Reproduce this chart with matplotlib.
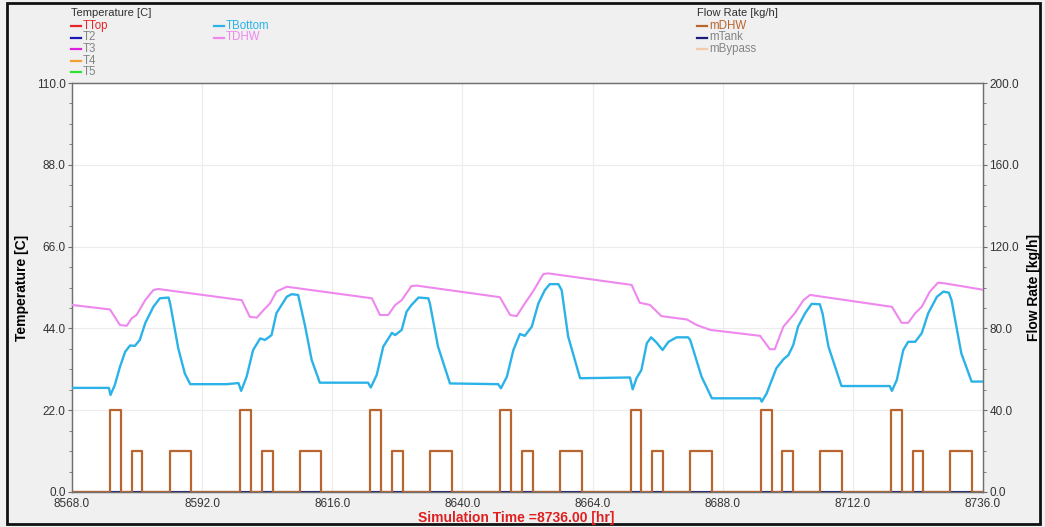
import matplotlib
matplotlib.use("Agg")
import matplotlib.pyplot as plt
from matplotlib.lines import Line2D
from matplotlib.patches import Rectangle
from matplotlib.ticker import AutoMinorLocator, FixedLocator, FormatStrFormatter

plt.rcParams["font.family"] = ["Liberation Sans", "DejaVu Sans"]

# ---- data -------------------------------------------------------------
t_start = 8568.0
t_end = 8736.0

# storage bottom temperature [C]; hours relative to t_start
tbottom_h = [0, 6.8, 7.1, 7.9, 8.85, 9.8, 10.7, 11.6, 12.5, 13.5, 15.0, 16.2, 17.8, 18.1,
             19.6, 20.8, 21.8, 28.5, 30.7, 31.2, 32.2, 33.4, 34.7, 35.6, 36.8, 37.7, 39.6,
             40.5, 41.7, 43.0, 44.2, 45.7, 54.6, 55.1, 56.2, 57.4, 59.0, 59.6, 60.8, 61.7,
             62.6, 63.9, 65.7, 66.0, 67.5, 69.7, 78.6, 79.1, 80.2, 81.4, 82.6, 83.5, 84.8,
             86.0, 87.2, 88.1, 89.7, 90.3, 91.5, 93.7, 102.9, 103.4, 104.1, 105.0, 106.0,
             106.8, 107.8, 108.9, 110.0, 111.5, 113.6, 114.0, 116.1, 118.0, 126.9, 127.2,
             128.1, 128.7, 129.9, 131.2, 132.1, 133.0, 133.9, 135.2, 136.4, 137.9, 138.4,
             139.5, 141.9, 150.8, 151.2, 152.1, 153.3, 154.2, 155.5, 156.7, 157.9, 159.5,
             160.7, 161.7, 162.2, 164.0, 165.9, 168.0]
tbottom = [28.0, 28.0, 26.1, 28.8, 33.7, 37.7, 39.4, 39.3, 40.9, 45.4, 49.8, 52.1, 52.3, 50.7,
           38.6, 31.9, 29.0, 29.0, 29.3, 27.2, 31.0, 38.2, 41.3, 40.9, 42.2, 48.1, 52.5,
           53.2, 53.0, 44.5, 35.5, 29.4, 29.4, 28.1, 31.5, 39.1, 42.8, 42.2, 43.6, 48.5,
           50.3, 52.3, 52.1, 50.7, 39.1, 29.2, 29.0, 27.9, 31.0, 38.2, 42.5, 42.0, 44.5,
           50.7, 54.3, 55.9, 55.9, 54.3, 41.8, 30.6, 30.8, 27.6, 30.6, 32.8, 40.0,
           41.6, 40.2, 38.2, 40.4, 41.6, 41.6, 40.9, 31.0, 25.2, 25.2, 24.3,
           26.5, 28.8, 33.3, 35.7, 36.8, 39.5, 44.5, 48.1, 50.6, 50.5, 48.1,
           39.1, 28.5, 28.5, 27.2, 30.1, 38.2, 40.4, 40.4, 42.7, 48.1, 52.5,
           53.9, 53.6, 51.6, 37.3, 29.7, 29.7]

# domestic hot water outlet temperature [C]
tdhw_h = [0, 7.0, 8.85, 10.1, 11.0, 11.9, 13.5, 15.0, 15.9, 31.3, 32.8, 34.1, 35.3, 36.5,
          37.7, 39.6, 55.3, 56.8, 58.3, 59.6, 60.8, 62.6, 63.6, 78.9, 80.8, 82.0, 83.5,
          85.0, 86.9, 87.8, 103.2, 104.7, 106.6, 108.7, 113.4, 115.2, 117.7, 126.9,
          128.7, 129.6, 131.2, 133.3, 134.9, 136.1, 151.2, 153.0, 154.2, 155.5, 156.7,
          158.2, 159.7, 161.0, 168.0]
tdhw = [50.3, 49.1, 44.9, 44.7, 46.7, 47.6, 51.6, 54.3, 54.6, 51.6, 47.1, 46.9, 48.9, 50.7,
        53.9, 55.2, 52.1, 47.6, 47.6, 50.3, 51.6, 55.4, 55.5, 52.4, 47.6, 47.3, 50.7,
        53.9, 58.6, 58.8, 55.7, 50.9, 50.3, 47.3, 46.4, 44.9, 43.6, 42.0,
        38.4, 38.4, 44.5, 48.1, 51.6, 53.0, 49.8, 45.5, 45.5, 48.1, 49.8,
        53.9, 56.3, 56.1, 54.4]

# hot water draw-offs: start hour, end hour, flow [kg/h]
draw_start = [7, 11, 18, 31, 35, 42, 55, 59, 66, 79, 83, 90, 103, 107, 114,
              127, 131, 138, 151, 155, 162]
draw_end = [9, 13, 22, 33, 37, 46, 57, 61, 70, 81, 85, 94, 105, 109, 118,
            129, 133, 142, 153, 157, 166]
draw_rate = [40, 20, 20, 40, 20, 20, 40, 20, 20, 40, 20, 20, 40, 20, 20,
             40, 20, 20, 40, 20, 20]

x_ticks = [8568, 8592, 8616, 8640, 8664, 8688, 8712, 8736]
temp_ticks = [0, 22, 44, 66, 88, 110]
flow_ticks = [0, 40, 80, 120, 160, 200]

# ---- styling -----------------------------------------------------------
c_ttop = "#e8262a"
c_t2 = "#1a1ab8"
c_t3 = "#e020e0"
c_t4 = "#f0a030"
c_t5 = "#30e030"
c_tbottom = "#2bb3e8"
c_tdhw = "#ee88ee"
c_mdhw = "#b8652f"
c_mtank = "#1c1c7a"
c_mbypass = "#f7c9a8"
c_grey_txt = "#858585"
c_tick = "#333333"

W, H = 1045, 527
fig = plt.figure(figsize=(W / 100, H / 100), dpi=100)
fig.patch.set_facecolor("#f0f0f0")

ax = fig.add_axes([72 / W, 1 - 492 / H, (983 - 72) / W, (492 - 83) / H])
ax.set_facecolor("white")
ax2 = ax.twinx()

# flow rates (right axis)
mx = [t_start]
my = [0.0]
for s, e, r in zip(draw_start, draw_end, draw_rate):
    mx += [t_start + s, t_start + s, t_start + e, t_start + e]
    my += [0, r, r, 0]
mx.append(t_end)
my.append(0.0)
ax2.plot([t_start, t_end], [0, 0], color=c_mbypass, lw=1.5, zorder=1)
ax2.plot([t_start, t_end], [0, 0], color=c_mtank, lw=1.5, zorder=2)
ax2.plot(mx, my, color=c_mdhw, lw=1.6, solid_joinstyle="round", zorder=3)

# temperatures (left axis) drawn on top of the flow axis
ax.set_zorder(ax2.get_zorder() + 1)
ax.patch.set_visible(False)
ax2.patch.set_visible(True)
ax2.patch.set_facecolor("white")
ax.plot([t_start + h for h in tdhw_h], tdhw, color=c_tdhw, lw=1.5, zorder=3)
ax.plot([t_start + h for h in tbottom_h], tbottom, color=c_tbottom, lw=1.7, zorder=4)

ax.set_xlim(t_start, t_end)
ax.set_ylim(0, 110)
ax2.set_ylim(0, 200)

ax.xaxis.set_major_locator(FixedLocator(x_ticks))
ax.yaxis.set_major_locator(FixedLocator(temp_ticks))
ax2.yaxis.set_major_locator(FixedLocator(flow_ticks))
ax.xaxis.set_major_formatter(FormatStrFormatter("%.1f"))
ax.yaxis.set_major_formatter(FormatStrFormatter("%.1f"))
ax2.yaxis.set_major_formatter(FormatStrFormatter("%.1f"))
ax.yaxis.set_minor_locator(AutoMinorLocator(4))
ax2.yaxis.set_minor_locator(AutoMinorLocator(4))

# gridlines sit on the flow axis so they stay beneath all curves
for xv in x_ticks[1:-1]:
    ax2.axvline(xv, color="#ececec", lw=0.8, zorder=0)
for yv in temp_ticks[1:-1]:
    ax2.axhline(yv / 110 * 200, color="#ececec", lw=0.8, zorder=0)

for a in (ax, ax2):
    for sp in a.spines.values():
        sp.set_color("#707070")
        sp.set_linewidth(0.9)
    a.tick_params(axis="both", which="major", length=3, width=0.8, color="#707070",
                  labelsize=8.5, labelcolor=c_tick, pad=1.5)
    a.tick_params(axis="y", which="minor", length=2, width=0.6, color="#707070")
ax.tick_params(axis="x", which="major", length=0, pad=4)

ax.set_ylabel("Temperature [C]", fontsize=10, fontweight="bold", labelpad=6)
ax2.set_ylabel("Flow Rate [kg/h]", fontsize=10, fontweight="bold", labelpad=6,
               rotation=90)
ax.set_xlabel("Simulation Time =8736.00 [hr]", fontsize=10, fontweight="bold",
              color="#e02020")
ax.xaxis.label.set_va("center")
ax.xaxis.set_label_coords((516 - 72) / (983 - 72), -(518 - 492) / (492 - 83))


# ---- legend blocks -----------------------------------------------------
def fx(px):
    return px / W


def fy(py):
    return 1 - py / H


def entry(x_line, y_px, color, label, text_color):
    fig.add_artist(Line2D([fx(x_line), fx(x_line + 10)], [fy(y_px), fy(y_px)],
                          color=color, lw=1.6, transform=fig.transFigure))
    fig.text(fx(x_line + 12), fy(y_px), label, fontsize=8.3, color=text_color,
             va="center", ha="left")


fig.text(fx(71), fy(13), "Temperature [C]", fontsize=8, color="#303030",
         va="center", ha="left")
rows = [26, 37.5, 49, 60.5, 72]
entry(71, rows[0], c_ttop, "TTop", c_ttop)
entry(71, rows[1], c_t2, "T2", c_grey_txt)
entry(71, rows[2], c_t3, "T3", c_grey_txt)
entry(71, rows[3], c_t4, "T4", c_grey_txt)
entry(71, rows[4], c_t5, "T5", c_grey_txt)
entry(214, rows[0], c_tbottom, "TBottom", c_tbottom)
entry(214, rows[1], c_tdhw, "TDHW", c_tdhw)

fig.text(fx(697), fy(13), "Flow Rate [kg/h]", fontsize=8, color="#303030",
         va="center", ha="left")
entry(697, rows[0], c_mdhw, "mDHW", c_mdhw)
entry(697, rows[1], c_mtank, "mTank", c_grey_txt)
entry(697, rows[2], c_mbypass, "mBypass", c_grey_txt)

# outer frame
fig.add_artist(Rectangle((fx(7), fy(524)), fx(1040 - 7), (524 - 3) / H,
                         transform=fig.transFigure, fill=False,
                         edgecolor="#111111", lw=2))

fig.savefig("out.png", dpi=100, facecolor=fig.get_facecolor())
